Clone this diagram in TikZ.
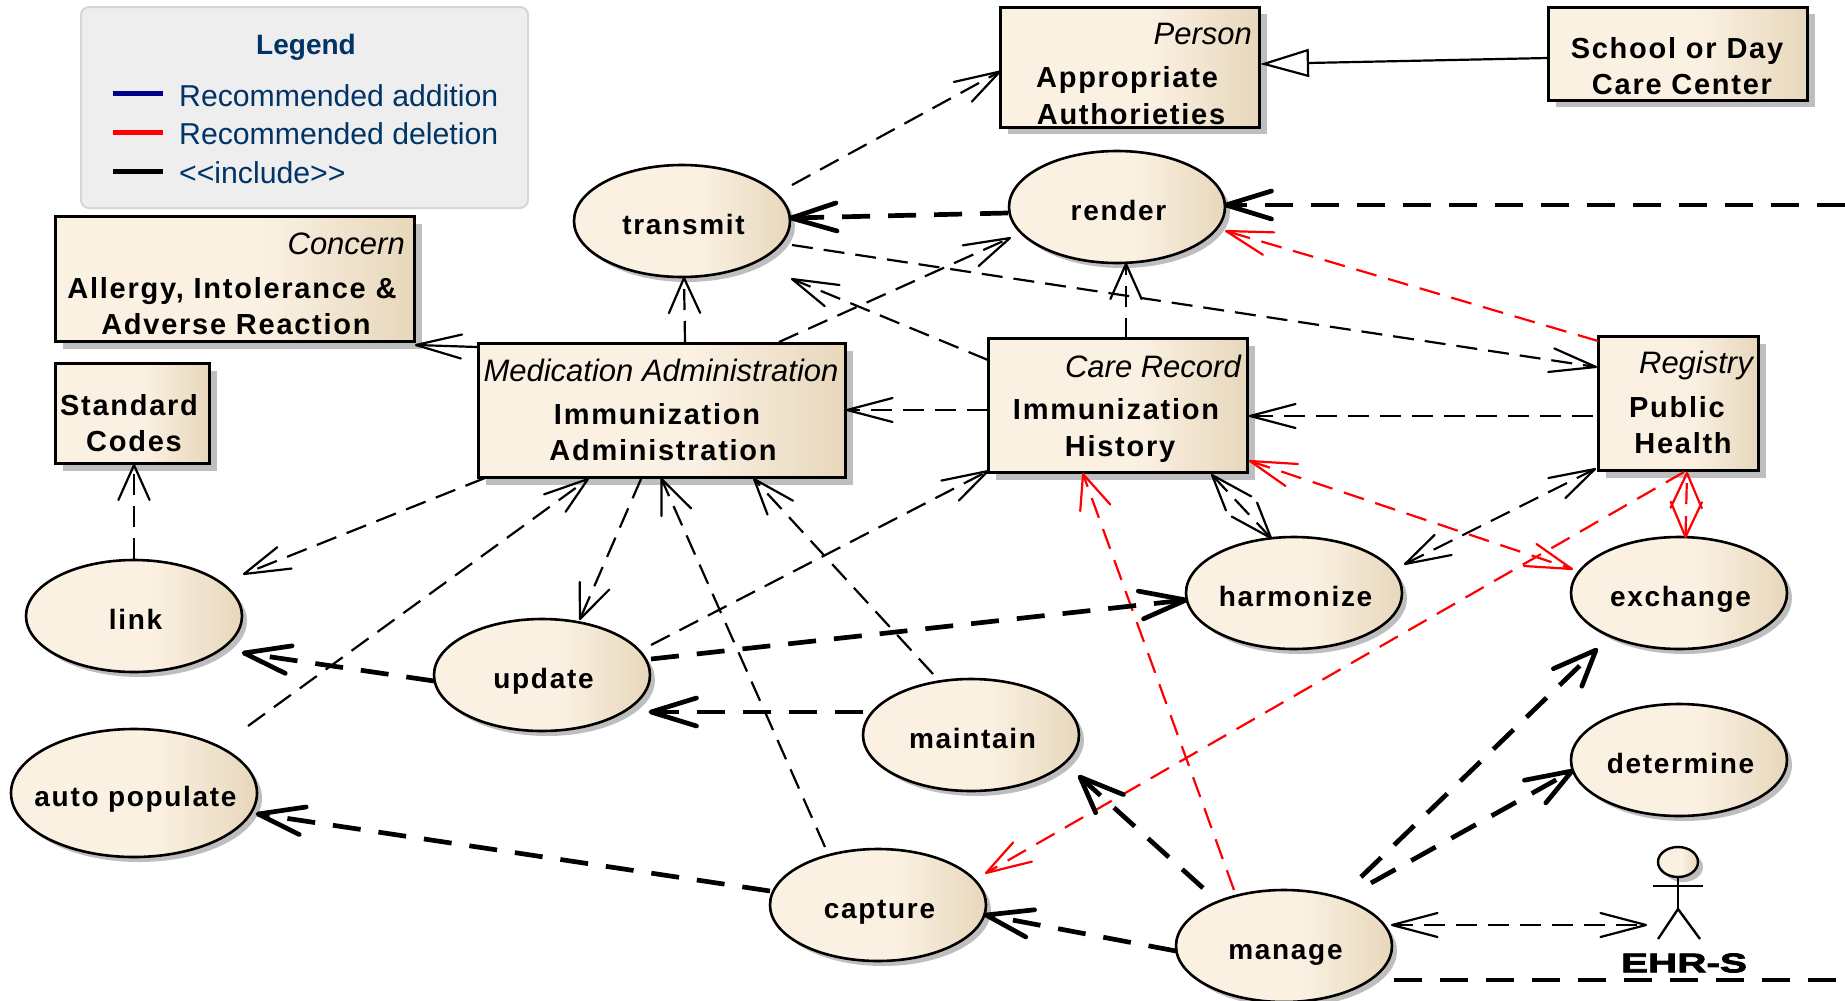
\documentclass[tikz,border=0pt]{standalone}
\usepackage{fontspec}
\setmainfont{Liberation Sans}
\newfontfamily\labf[LetterSpace=6.0]{Liberation Sans}
\newfontfamily\ehrf[FakeBold=3,FakeStretch=1.5]{Liberation Sans Bold}
\usetikzlibrary{arrows.meta,shapes.geometric,shadows,decorations.markings}
\definecolor{creamA}{RGB}{251,241,227}
\definecolor{creamB}{RGB}{231,215,187}
\definecolor{shadowgrey}{RGB}{190,190,190}
\definecolor{legblue}{RGB}{0,51,102}
\definecolor{legnavy}{RGB}{0,0,140}
\pgfdeclarehorizontalshading{umlfill}{100bp}{color(0bp)=(creamA); color(54bp)=(creamA); color(75bp)=(creamB); color(100bp)=(creamB)}
\newcommand{\ctext}[1]{\raisebox{-13.5pt}[0pt][0pt]{\makebox[0pt]{\hspace*{3pt}#1}}}
% open V head, skewed as the reference is (wider horizontally)
\newcommand{\barbs}[5]{%
  \pgfgettransformentries{\ma}{\mb}{\mc}{\md}{\mx}{\my}%
  \pgfmathsetmacro\ux{#1*\ma/1.3}\pgfmathsetmacro\uy{#1*\mb}%
  \pgfmathsetmacro\nn{veclen(\ux,\uy)}%
  \pgfmathsetmacro\ux{\ux/\nn}\pgfmathsetmacro\uy{\uy/\nn}%
  \pgftransformresetnontranslations
  \pgfmathsetmacro\ax{1.3*(-#2*\ux+#3*\uy)}\pgfmathsetmacro\ay{-#2*\uy-#3*\ux}%
  \pgfmathsetmacro\bx{1.3*(-#2*\ux-#3*\uy)}\pgfmathsetmacro\by{-#2*\uy+#3*\ux}%
  \draw[draw=#4,line width=#5pt,solid,line join=round,line cap=round] (\ax pt,\ay pt) -- (0pt,0pt) -- (\bx pt,\by pt);
}
\tikzset{
  umlbox/.style={rectangle,draw=black,line width=3pt,inner sep=0pt,shade,shading=umlfill,
    general shadow={shadow xshift=8pt,shadow yshift=-7pt,fill=shadowgrey}},
  usecase/.style={ellipse,draw=black,line width=2.6pt,inner sep=0pt,minimum width=216pt,minimum height=112pt,
    shade,shading=umlfill,general shadow={shadow xshift=5pt,shadow yshift=-5pt,fill=shadowgrey},
    font=\fontsize{28}{36}\selectfont\labf\bfseries},
  boxname/.style={align=center,inner sep=0pt,font=\fontsize{29}{36.5}\selectfont\labf\bfseries},
  boxtitle/.style={inner sep=0pt,font=\fontsize{31}{36}\selectfont\itshape},
  legtext/.style={inner sep=0pt,anchor=west,text=legblue,font=\fontsize{30.2}{36}\selectfont},
  swatch/.style={line width=5pt},
  thinlink/.style={draw=black,line width=2.2pt,dash pattern=on 21pt off 11pt},
  redlink/.style={draw=red,line width=2.2pt,dash pattern=on 21pt off 12pt},
  heavylink/.style={draw=black,line width=4.7pt,dash pattern=on 28pt off 18pt},
  solidlink/.style={draw=black,line width=2.2pt},
  tipend/.style={postaction={decorate,decoration={markings,mark=at position 1 with {\barbs{1}{35}{12}{black}{2.2}}}}},
  tipstart/.style={postaction={decorate,decoration={markings,mark=at position 0 with {\barbs{-1}{35}{12}{black}{2.2}}}}},
  redend/.style={postaction={decorate,decoration={markings,mark=at position 1 with {\barbs{1}{35}{12}{red}{2.2}}}}},
  redstart/.style={postaction={decorate,decoration={markings,mark=at position 0 with {\barbs{-1}{35}{12}{red}{2.2}}}}},
  heavyend/.style={postaction={decorate,decoration={markings,mark=at position 1 with {\barbs{1}{35}{14}{black}{4.7}}}}},
}
\begin{document}
\begin{tikzpicture}[x=1pt,y=-1pt]
\useasboundingbox (0,0) rectangle (1845,1001);

% legend
\node[draw=black!16,fill=black!6.5,line width=2pt,rounded corners=8pt,minimum width=447pt,minimum height=201pt,inner sep=0pt] (legend) at (304.5,107.5) {};
\node[inner sep=0pt,text=legblue,font=\fontsize{28}{32}\selectfont\bfseries] (legtitle) at (306,47) {Legend};
\node[legtext] (leg1) at (179,96) {Recommended addition};
\node[legtext] (leg2) at (179,134) {Recommended deletion};
\node[legtext] (leg3) at (179,173) {<{}<include>{}>};
\draw[swatch,draw=legnavy] ([shift={(-66,-3)}]leg1.west) -- ([shift={(-16,-3)}]leg1.west);
\draw[swatch,draw=red] ([shift={(-66,-2)}]leg2.west) -- ([shift={(-16,-2)}]leg2.west);
\draw[swatch,draw=black] ([shift={(-66,-2)}]leg3.west) -- ([shift={(-16,-2)}]leg3.west);

% boxes
\node[umlbox,minimum width=259pt,minimum height=120pt] (person) at (1129.5,67) {};
\node[umlbox,minimum width=259pt,minimum height=93pt] (school) at (1677.5,53.5) {};
\node[umlbox,minimum width=359pt,minimum height=125pt] (concern) at (234.5,279) {};
\node[umlbox,minimum width=154pt,minimum height=100pt] (standard) at (132,413.5) {};
\node[umlbox,minimum width=367pt,minimum height=134pt] (med) at (661.5,410.5) {};
\node[umlbox,minimum width=259pt,minimum height=134pt] (care) at (1117.5,405.5) {};
\node[umlbox,minimum width=160pt,minimum height=134pt] (public) at (1678,403.5) {};

\node[boxtitle,anchor=east] (persontitle) at (1252,34) {Person};
\node[boxname] (personname) at (1127,95.5) {Appropriate\\\hspace*{8pt}Authorieties};
\node[boxname] (schoolname) at (1677,66) {School or Day\\\hspace*{10pt}Care Center};
\node[boxtitle,anchor=east] (concerntitle) at (405,244) {Concern};
\node[boxname] (concernname) at (232,306) {Allergy, Intolerance \&\\\hspace*{8pt}Adverse Reaction};
\node[boxname] (standardname) at (129,423) {Standard\\\hspace*{10pt}Codes};
\node[boxtitle] (medtitle) at (661,370) {Medication Administration};
\node[boxname] (medname) at (657,432) {Immunization\\\hspace*{12pt}Administration};
\node[boxtitle,anchor=east] (caretitle) at (1241,366) {Care Record};
\node[boxname] (carename) at (1116,430.5) {Immunization\\\hspace*{8pt}History};
\node[boxtitle,anchor=east] (publictitle) at (1753,365) {Registry};
\node[boxname] (publicname) at (1677,425) {Public\\\hspace*{12pt}Health};

% use cases
\node[usecase] (transmit) at (682,221) {\ctext{transmit}};
\node[usecase] (render) at (1117,207) {\ctext{render}};
\node[usecase] (harmonize) at (1294,593) {\ctext{harmonize}};
\node[usecase] (exchange) at (1679,593) {\ctext{exchange}};
\node[usecase] (link) at (134,616) {\ctext{link}};
\node[usecase] (update) at (542,675) {\ctext{update}};
\node[usecase] (maintain) at (971,735) {\ctext{maintain}};
\node[usecase] (determine) at (1679,760) {\ctext{determine}};
\node[usecase,minimum width=246pt,minimum height=128pt] (autopop) at (134,793) {\ctext{auto populate}};
\node[usecase] (capture) at (878,905) {\ctext{capture}};
\node[usecase] (manage) at (1284,946) {\ctext{manage}};

% actor
\node[ellipse,draw=black,line width=2.4pt,minimum width=40pt,minimum height=30pt,inner sep=0pt,shade,shading=umlfill,
  general shadow={shadow xshift=5pt,shadow yshift=-5pt,fill=shadowgrey}] (ehrhead) at (1678,862) {};
\coordinate (hip) at ([shift={(0,47)}]ehrhead.center);
\draw[line width=2.4pt] (ehrhead.south) -- (hip);
\draw[line width=2.4pt] ([shift={(-25,24)}]ehrhead.center) -- ([shift={(25,24)}]ehrhead.center);
\draw[line width=2.4pt] ([shift={(-20,77)}]ehrhead.center) -- (hip) -- ([shift={(22,77)}]ehrhead.center);
\node[inner sep=0pt,font=\fontsize{27}{32}\selectfont\ehrf] (ehrlabel) at (1684,963) {EHR-S};

% free ends
\coordinate (rightedge) at (1845,205);
\coordinate (bottomedge) at (1845,980);

% thin dashed
\draw[thinlink,tipend] ([shift={(110,-36)}]transmit.center) -- ([shift={(-129.5,4.5)}]person.center);
\draw[thinlink,tipend] ([shift={(110,24)}]transmit.center) -- ([shift={(-82,-36.5)}]public.center);
\draw[thinlink,tipend] ([shift={(117.5,-68.5)}]med.center) -- ([shift={(-107,31)}]render.center);
\draw[thinlink,tipend] ([shift={(23.5,-68.5)}]med.center) -- ([shift={(2,57)}]transmit.center);
\draw[thinlink,tipend] ([shift={(-129.5,-45.5)}]care.center) -- ([shift={(110,58)}]transmit.center);
\draw[thinlink,tipend] ([shift={(8.5,-66.5)}]care.center) -- ([shift={(9,57)}]render.center);
\draw[thinlink,tipend] ([shift={(-129.5,4.5)}]care.center) -- ([shift={(185.5,-0.5)}]med.center);
\draw[thinlink,tipend] ([shift={(-85,12.5)}]public.center) -- ([shift={(132.5,10.5)}]care.center);
\draw[thinlink,tipend] ([shift={(0,-57)}]link.center) -- ([shift={(2,51.5)}]standard.center);
\draw[thinlink,tipend] ([shift={(-176.5,67.5)}]med.center) -- ([shift={(110,-42)}]link.center);
\draw[thinlink,tipend] ([shift={(-20.5,68.5)}]med.center) -- ([shift={(38,-56)}]update.center);
\draw[thinlink,tipend] ([shift={(109,-30)}]update.center) -- ([shift={(-129.5,65.5)}]care.center);
\draw[thinlink,tipend] ([shift={(114,-67)}]autopop.center) -- ([shift={(-73.5,68.5)}]med.center);
\draw[thinlink,tipend] ([shift={(-53,-58)}]capture.center) -- ([shift={(0,68.5)}]med.center);
\draw[thinlink,tipend] ([shift={(-38,-61)}]maintain.center) -- ([shift={(92.5,68.5)}]med.center);
\draw[thinlink,tipstart,tipend] ([shift={(-23,-55)}]harmonize.center) -- ([shift={(94.5,69.5)}]care.center);
\draw[thinlink,tipstart,tipend] ([shift={(111,-29)}]harmonize.center) -- ([shift={(-83,65.5)}]public.center);
\draw[thinlink,tipstart,tipend] ([shift={(108,-21)}]manage.center) -- ([shift={(-32,63)}]ehrhead.center);

% solid
\draw[solidlink,tipend] ([shift={(-184.5,-63.5)}]med.center) -- ([shift={(181.5,66)}]concern.center);
\draw[solidlink,-{Triangle[length=49pt,width=28pt,fill=white]}] ([shift={(-129.5,4.5)}]school.center) -- ([shift={(130.5,-3)}]person.center);

% red
\draw[redlink,redend] ([shift={(-80,-62.5)}]public.center) -- ([shift={(109,24)}]render.center);
\draw[redlink,redstart,redend] ([shift={(132.5,55.5)}]care.center) -- ([shift={(-107,-24)}]exchange.center);
\draw[redlink,redend] ([shift={(6,68.5)}]public.center) -- ([shift={(108,-32)}]capture.center);
\draw[redlink,redstart,redend] ([shift={(6.5,-56)}]exchange.center) -- ([shift={(9,69.5)}]public.center);
\draw[redlink,redend] ([shift={(-50,-56)}]manage.center) -- ([shift={(-34.5,68.5)}]care.center);

% heavy dashed
\draw[heavylink,heavyend] ([shift={(-109,6)}]render.center) -- ([shift={(109,-3)}]transmit.center);
\draw[heavylink,heavyend] (rightedge) -- ([shift={(109,-2)}]render.center);
\draw[heavylink,heavyend] ([shift={(109,-16)}]update.center) -- ([shift={(-108,7)}]harmonize.center);
\draw[heavylink,heavyend] ([shift={(-108,6)}]update.center) -- ([shift={(110,37)}]link.center);
\draw[heavylink,heavyend] ([shift={(-108,-23)}]maintain.center) -- ([shift={(109,37)}]update.center);
\draw[heavylink,heavyend] ([shift={(-108,-14)}]capture.center) -- ([shift={(124,21)}]autopop.center);
\draw[heavylink,heavyend] ([shift={(-81,-58)}]manage.center) -- ([shift={(109,42)}]maintain.center);
\draw[heavylink,heavyend] ([shift={(-108,5)}]manage.center) -- ([shift={(108,10)}]capture.center);
\draw[heavylink,heavyend] ([shift={(77,-69)}]manage.center) -- ([shift={(-83,57)}]exchange.center);
\draw[heavylink,heavyend] ([shift={(87,-63)}]manage.center) -- ([shift={(-107,11)}]determine.center);
\draw[heavylink] ([shift={(110,34)}]manage.center) -- (bottomedge);
\end{tikzpicture}
\end{document}
